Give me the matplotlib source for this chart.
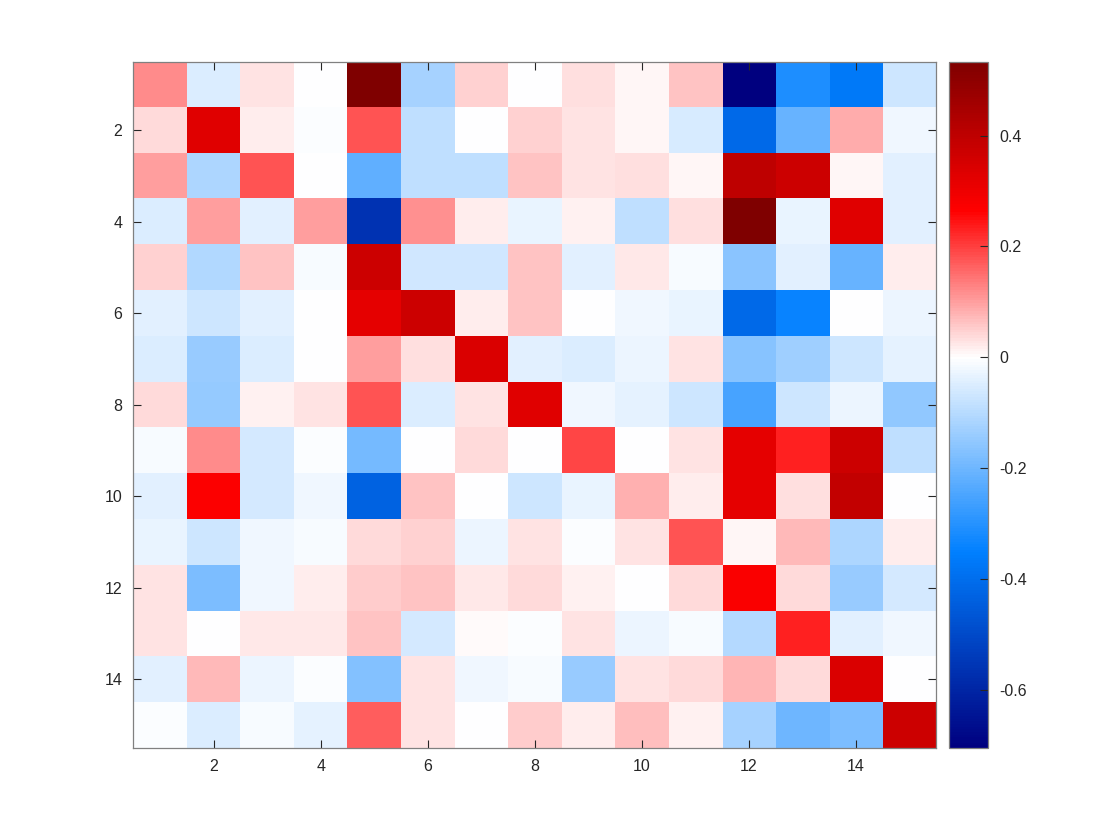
import numpy as np
import matplotlib
matplotlib.use("Agg")
import matplotlib.pyplot as plt
from matplotlib.colors import LinearSegmentedColormap

plt.rcParams['font.family'] = ['Liberation Sans', 'DejaVu Sans']

# 15x15 matrix (row 1 at top)
row01 = [0.12, -0.05, 0.03, 0.0, 0.533, -0.12, 0.045, 0.0, 0.035, 0.01, 0.06, -0.704, -0.31, -0.37, -0.07]
row02 = [0.04, 0.33, 0.02, -0.005, 0.18, -0.09, 0.0, 0.047, 0.03, 0.01, -0.056, -0.41, -0.21, 0.088, -0.02]
row03 = [0.10, -0.11, 0.18, 0.0, -0.22, -0.09, -0.09, 0.06, 0.026, 0.035, 0.008, 0.40, 0.37, 0.008, -0.04]
row04 = [-0.05, 0.10, -0.04, 0.10, -0.56, 0.115, 0.018, -0.03, 0.013, -0.09, 0.035, 0.53, -0.03, 0.33, -0.04]
row05 = [0.045, -0.105, 0.06, -0.01, 0.37, -0.063, -0.063, 0.06, -0.04, 0.024, -0.01, -0.16, -0.04, -0.21, 0.02]
row06 = [-0.04, -0.07, -0.04, 0.0, 0.32, 0.37, 0.02, 0.063, 0.0, -0.02, -0.03, -0.41, -0.34, 0.0, -0.025]
row07 = [-0.05, -0.14, -0.05, 0.0, 0.10, 0.035, 0.34, -0.04, -0.05, -0.025, 0.03, -0.165, -0.13, -0.07, -0.035]
row08 = [0.04, -0.145, 0.013, 0.03, 0.177, -0.05, 0.03, 0.33, -0.02, -0.035, -0.07, -0.25, -0.07, -0.025, -0.15]
row09 = [-0.01, 0.12, -0.06, -0.005, -0.19, 0.0, 0.037, 0.0, 0.19, 0.0, 0.03, 0.32, 0.23, 0.37, -0.09]
row10 = [-0.04, 0.27, -0.06, -0.02, -0.43, 0.063, 0.0, -0.07, -0.03, 0.083, 0.02, 0.32, 0.035, 0.39, 0.0]
row11 = [-0.03, -0.07, -0.02, -0.01, 0.037, 0.047, -0.025, 0.03, -0.005, 0.03, 0.18, 0.01, 0.073, -0.11, 0.02]
row12 = [0.03, -0.18, -0.02, 0.02, 0.05, 0.063, 0.024, 0.04, 0.013, 0.0, 0.04, 0.275, 0.04, -0.14, -0.06]
row13 = [0.03, 0.0, 0.024, 0.024, 0.063, -0.06, 0.005, -0.007, 0.03, -0.025, -0.01, -0.10, 0.23, -0.04, -0.02]
row14 = [-0.04, 0.073, -0.025, -0.005, -0.17, 0.03, -0.02, -0.01, -0.14, 0.03, 0.04, 0.078, 0.04, 0.34, 0.0]
row15 = [-0.005, -0.05, -0.01, -0.035, 0.167, 0.03, 0.0, 0.05, 0.02, 0.067, 0.013, -0.12, -0.20, -0.18, 0.37]

tick_vals = [2, 4, 6, 8, 10, 12, 14]
cbar_ticks = [-0.6, -0.4, -0.2, 0, 0.2, 0.4]
cbar_labels = ["-0.6", "-0.4", "-0.2", "0", "0.2", "0.4"]

M = np.array([row01, row02, row03, row04, row05, row06, row07, row08,
              row09, row10, row11, row12, row13, row14, row15])
n = M.shape[0]
vmin, vmax = M.min(), M.max()

# blue-white-red map with white pinned at zero (like bluewhitered.m)
r = abs(vmin) / (abs(vmin) + vmax)
cmap = LinearSegmentedColormap.from_list("bwr_zero", [
    (0.0, (0, 0, 0.5)),
    (r / 2, (0, 0.5, 1)),
    (r, (1, 1, 1)),
    (r + (1 - r) / 2, (1, 0, 0)),
    (1.0, (0.5, 0, 0)),
], N=256)

fig = plt.figure(figsize=(11.2, 8.4), dpi=100)
ax = fig.add_axes([0.119, 0.1095, 0.717, 0.817])
cax = fig.add_axes([0.847, 0.1095, 0.035, 0.817])

im = ax.imshow(M, cmap=cmap, vmin=vmin, vmax=vmax, aspect="auto",
               interpolation="nearest", extent=(0.5, n + 0.5, n + 0.5, 0.5))

edge = "#262626"
ax.set_xticks(tick_vals)
ax.set_yticks(tick_vals)
ax.tick_params(direction="in", top=True, right=True, length=6, width=0.8,
               color=edge, labelsize=11.5, labelcolor=edge, pad=8)
for s in ax.spines.values():
    s.set_color("#808080")
    s.set_linewidth(0.9)

cb = fig.colorbar(im, cax=cax)
cb.set_ticks(cbar_ticks)
cb.set_ticklabels(cbar_labels)
cb.ax.tick_params(direction="in", length=6, width=0.8, color=edge,
                  labelsize=11.5, labelcolor=edge, pad=8)
cb.outline.set_edgecolor("#808080")
cb.outline.set_linewidth(0.9)

fig.savefig("out.png", dpi=100)
